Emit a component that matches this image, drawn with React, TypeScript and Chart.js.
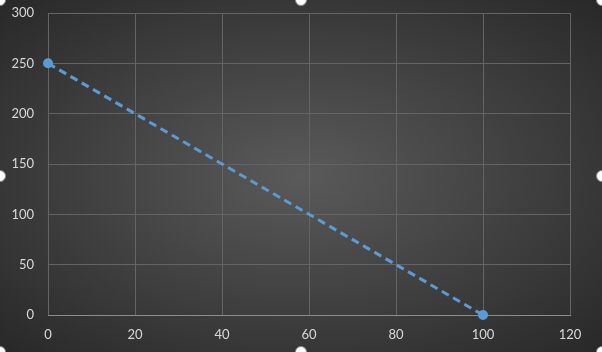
import React, { useEffect, useRef } from "react";
import { Chart, registerables } from "chart.js";

Chart.register(...registerables);

const xValues = [0, 100];
const yValues = [250, 0];

const handlesPlugin = {
  id: "handles",
  afterDraw(chart: any) {
    const ctx = chart.ctx;
    const w = chart.width;
    const h = chart.height;
    const pts = [
      [0, 0], [w / 2, 0], [w, 0],
      [0, h / 2], [w, h / 2],
      [0, h], [w / 2, h], [w, h],
    ];
    ctx.save();
    for (const [x, y] of pts) {
      ctx.beginPath();
      ctx.arc(x, y, 5.5, 0, Math.PI * 2);
      ctx.fillStyle = "#ffffff";
      ctx.fill();
      ctx.lineWidth = 1;
      ctx.strokeStyle = "#8a8a8a";
      ctx.stroke();
    }
    ctx.restore();
  },
};

export default function App() {
  const ref = useRef<HTMLCanvasElement>(null);
  useEffect(() => {
    document.body.style.margin = "0";
    const chart = new Chart(ref.current!, {
      type: "scatter",
      data: {
        datasets: [
          {
            data: xValues.map((x, i) => ({ x, y: yValues[i] })),
            showLine: true,
            borderColor: "#5b9bd5",
            backgroundColor: "#5b9bd5",
            borderWidth: 3,
            borderDash: [8, 5],
            pointRadius: 5,
            pointBorderWidth: 0,
            clip: false,
          },
        ],
      },
      options: {
        animation: false,
        responsive: false,
        maintainAspectRatio: false,
        layout: { padding: { top: 13, right: 32, left: 0, bottom: 0 } },
        plugins: { legend: { display: false }, tooltip: { enabled: false } },
        scales: {
          x: {
            type: "linear",
            min: 0,
            max: 120,
            ticks: {
              stepSize: 20,
              color: "#d9d9d9",
              font: { family: "Lato", size: 13 },
              padding: 12,
            },
            grid: { color: "#646464", drawTicks: false, lineWidth: 1 },
            border: { color: "#8c8c8c", width: 1 },
            afterFit(scale: any) {
              scale.height = 37;
              scale.paddingLeft = 0;
              scale.paddingRight = 0;
            },
          },
          y: {
            min: 0,
            max: 300,
            ticks: {
              stepSize: 50,
              color: "#d9d9d9",
              font: { family: "Lato", size: 13 },
              padding: 14,
            },
            grid: { color: "#646464", drawTicks: false, lineWidth: 1 },
            border: { display: false },
            afterFit(scale: any) {
              scale.width = 48;
              scale.paddingTop = 0;
              scale.paddingBottom = 0;
            },
          },
        },
      },
      plugins: [handlesPlugin],
    });
    return () => chart.destroy();
  }, []);
  return (
    <div
      style={{
        width: 602,
        height: 352,
        background: "radial-gradient(ellipse at center, #5a5a5a 0%, #414141 50%, #282828 100%)",
      }}
    >
      <canvas ref={ref} width={602} height={352} style={{ display: "block" }} />
    </div>
  );
}
